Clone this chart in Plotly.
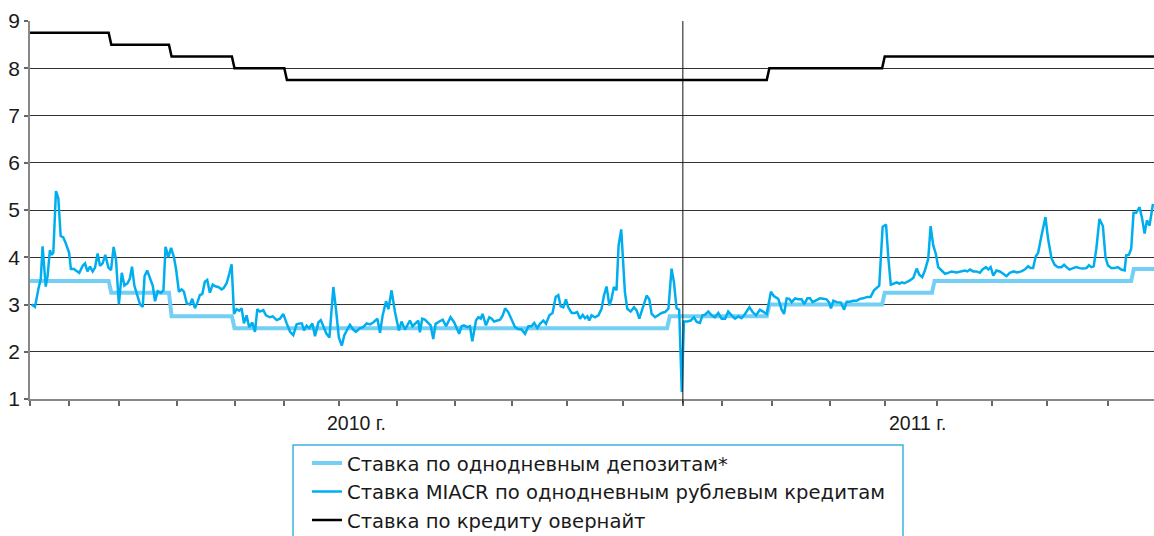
import plotly.graph_objects as go

# ---------------- data ----------------
# trading days per month, Jan 2010 .. Aug 2011 (category axis = trading days)
month_lengths = [15, 19, 22, 22, 19, 21, 22, 22, 22, 21, 21, 23,
                 15, 19, 22, 21, 20, 21, 21, 23]
last_day = 428.7          # end of the visible axis (mid/late Sep 2011)
year_labels = ["2010 г.", "2011 г."]
year_start_2011 = 249     # first trading day of 2011

# overnight credit rate (step changes: trading-day index, rate)
overnight_start = [0, 31, 54, 78, 98, 282, 326]
overnight_rate = [8.75, 8.5, 8.25, 8.0, 7.75, 8.0, 8.25]

# one-day deposit rate
deposit_start = [0, 31, 54, 78, 244, 282, 326, 345, 421]
deposit_rate = [3.5, 3.25, 2.75, 2.5, 2.75, 3.0, 3.25, 3.5, 3.75]

# MIACR overnight rate (trading-day index, %)
miacr_day = [
    0.6, 1.9, 3.2, 4.1, 4.8, 6.0, 6.7, 7.6, 8.3, 8.9, 9.9, 10.8, 11.7, 12.7, 13.6, 14.9,
    15.6, 16.8, 17.5, 18.8, 20.1, 21.0, 21.9, 22.9, 23.9, 24.8, 25.8, 26.7, 27.7, 28.7,
    29.9, 30.9, 31.9, 32.8, 33.9, 35.0, 36.0, 37.2, 38.1, 38.9, 39.8, 40.9, 42.0, 43.0,
    43.7, 44.7, 45.8, 46.8, 47.7, 48.7, 50.0, 50.9, 51.7, 52.8, 53.8, 54.9, 55.7, 56.8,
    57.8, 58.7, 59.8, 61.0, 61.9, 62.9, 63.9, 64.8, 65.7, 66.7, 67.6, 68.6, 69.7, 70.9,
    71.8, 73.1, 73.9, 75.0, 76.0, 76.9, 77.8, 78.8, 79.8, 80.7, 81.6, 82.6, 83.6, 84.8,
    85.8, 86.7, 87.7, 89.0, 90.0, 91.5, 92.6, 94.1, 95.3, 96.6, 97.9, 99.2, 100.4, 101.7,
    103.0, 103.7, 104.5, 105.5, 106.5, 107.7, 108.7, 110.0, 110.9, 112.1, 113.1, 114.2,
    115.7, 116.7, 117.8, 118.9, 119.9, 121.0, 122.0, 123.3, 124.3, 125.9, 127.1, 128.4,
    129.7, 130.9, 132.5, 133.5,
    134.5, 135.8, 136.7, 137.9, 139.2, 140.7, 141.7, 143.0, 143.9, 144.9, 145.9, 147.2,
    148.1, 148.7, 149.6, 150.6, 151.9, 152.8, 153.8, 154.7, 156.1, 157.4, 158.7, 160.4,
    161.7, 163.7, 164.6, 165.5, 166.8, 167.8, 168.7, 170.1, 171.0, 171.9, 172.6, 173.9,
    175.2, 176.1, 177.0, 178.0, 179.3, 180.3, 181.2, 182.4, 183.7, 185.0, 186.2, 187.5,
    188.8, 190.1, 191.3, 192.3, 193.5, 194.5, 195.8, 196.8, 198.1, 199.3, 200.5, 201.5,
    202.4, 203.4, 204.4, 205.3, 206.6, 207.9, 208.7, 209.8, 210.8, 211.7, 212.6, 213.3,
    214.2, 215.5, 216.8, 218.0, 218.9, 219.9, 221.0, 221.8, 222.7, 223.7, 224.5, 225.5,
    226.3, 226.9, 227.8, 229.1, 230.4, 231.4, 232.4, 233.9, 235.2, 236.2, 237.1, 238.4,
    239.6, 240.9, 242.2, 243.5, 244.7, 245.6, 246.6, 247.6, 248.6, 249.4, 250.7, 252.0,
    253.2, 254.3, 255.5, 256.5, 257.4, 258.7, 260.0, 261.2, 262.5, 263.8, 265.1, 266.3,
    267.6, 268.9, 270.2, 271.4, 272.7, 274.4, 275.6, 276.9, 278.4,
    279.7, 281.0, 282.6, 283.7, 285.4, 286.7, 287.6, 288.6, 289.6, 290.5, 291.8, 293.0,
    294.3, 295.3, 296.5, 297.5, 298.5, 299.8, 301.3, 302.6, 303.8, 304.7, 305.5, 306.4,
    307.7, 309.3, 310.5, 311.5, 312.7, 314.0, 315.3, 316.5, 317.8, 319.3, 320.6, 321.9,
    323.2, 323.9, 325.2, 326.5, 327.4, 328.3, 329.3, 330.6, 331.6, 332.5, 333.5, 334.4,
    335.6, 336.9, 338.2, 339.2, 340.3, 341.3, 342.6, 343.5, 344.5, 345.5, 346.4, 347.7,
    349.0, 350.2, 351.5, 353.4, 355.3, 356.6, 357.5, 358.5, 359.8, 361.0, 362.3, 363.3,
    364.6, 365.5, 366.4, 367.4, 368.6, 369.9, 371.2, 372.4, 373.7, 375.2, 376.5, 378.1,
    379.4, 380.7, 381.6, 382.6, 383.6, 384.5, 385.8, 387.3, 388.3, 389.6, 390.8, 392.1,
    393.4, 394.4, 395.3, 396.5, 397.8, 399.1, 400.3, 401.6, 402.9, 403.9, 404.8, 405.7,
    406.7, 407.9, 409.2, 410.2, 411.1, 412.4, 413.7, 414.9, 416.2, 417.5, 418.1, 419.1,
    420.0, 420.9, 421.9, 423.2, 424.2, 425.1, 426.0, 427.0, 428.3,
]
miacr_rate = [
    3.00, 2.95, 3.33, 3.54, 4.23, 3.38, 3.60, 4.15, 4.05, 4.10, 5.40, 5.25, 4.45, 4.42, 4.30, 4.10,
    3.75, 3.75, 3.72, 3.67, 3.82, 3.87, 3.70, 3.80, 3.70, 3.78, 4.08, 3.82, 3.87, 4.05,
    3.78, 3.73, 4.22, 3.95, 3.00, 3.67, 3.40, 3.45, 3.55, 3.80, 3.40, 3.20, 3.00, 2.95,
    3.60, 3.72, 3.55, 3.40, 3.07, 3.28, 3.25, 3.30, 4.22, 4.00, 4.20, 4.00, 3.75, 3.27,
    3.32, 3.27, 3.02, 3.00, 3.12, 2.92, 3.05, 3.20, 3.22, 3.48, 3.52, 3.25, 3.42, 3.38,
    3.37, 3.32, 3.35, 3.45, 3.65, 3.85, 2.80, 2.90, 2.87, 2.92, 2.60, 2.77, 2.52, 2.62,
    2.42, 2.90, 2.85, 2.88, 2.77, 2.73, 2.75, 2.67, 2.70, 2.80, 2.60, 2.42, 2.35, 2.58,
    2.60, 2.60, 2.45, 2.55, 2.50, 2.60, 2.33, 2.62, 2.67, 2.52, 2.38, 2.30,
    3.37, 2.90, 2.30, 2.13, 2.35, 2.47, 2.57, 2.47, 2.42, 2.50, 2.52, 2.60,
    2.58, 2.62, 2.70, 2.40,
    2.77, 3.07, 2.90, 3.30, 2.84, 2.45, 2.64, 2.47, 2.56, 2.66, 2.54, 2.61,
    2.66, 2.41, 2.70, 2.68, 2.61, 2.56, 2.27, 2.59, 2.64, 2.68, 2.54, 2.73,
    2.63, 2.38, 2.54, 2.56, 2.52, 2.54, 2.22, 2.66, 2.73, 2.70, 2.80, 2.56,
    2.73, 2.70, 2.64, 2.66, 2.68, 2.77, 2.92, 2.84, 2.66, 2.52, 2.48, 2.47,
    2.38, 2.54, 2.54, 2.61, 2.50, 2.59, 2.66, 2.59, 2.77, 2.82, 3.16, 3.20,
    2.96, 2.94, 3.11, 2.94, 2.82, 2.82, 2.84, 2.70, 2.78, 2.71, 2.75, 2.66,
    2.77, 2.73, 2.77, 2.91, 3.19, 3.38, 2.98, 3.12, 3.37, 3.30, 4.25, 4.59,
    3.83, 3.26, 2.91, 2.85, 2.94, 2.87, 2.70, 2.94, 3.19, 3.11, 2.80, 2.73,
    2.78, 2.82, 2.84, 2.91, 3.76, 3.47, 2.92, 2.89, 1.15, 2.64, 2.64, 2.66,
    2.73, 2.63, 2.61, 2.77, 2.78, 2.85, 2.77, 2.73, 2.82, 2.70, 2.70, 2.85,
    2.77, 2.70, 2.75, 2.71, 2.80, 2.94, 2.84, 2.77, 2.89,
    2.85, 2.80, 3.27, 3.18, 3.12, 2.89, 2.80, 3.13, 3.12, 3.05, 3.13, 3.11,
    3.11, 3.01, 3.13, 3.13, 3.05, 3.08, 3.13, 3.12, 3.11, 3.05, 2.92, 3.08,
    3.05, 3.04, 2.89, 3.06, 3.06, 3.08, 3.08, 3.12, 3.13, 3.16, 3.16, 3.30,
    3.37, 3.40, 4.64, 4.69, 3.97, 3.42, 3.44, 3.47, 3.44, 3.47, 3.45, 3.47,
    3.51, 3.56, 3.76, 3.63, 3.58, 3.72, 3.97, 4.66, 4.25, 4.07, 3.79, 3.72,
    3.65, 3.67, 3.70, 3.68, 3.70, 3.72, 3.70, 3.74, 3.70, 3.70, 3.67, 3.74,
    3.79, 3.74, 3.79, 3.61, 3.72, 3.70, 3.65, 3.60, 3.67, 3.70, 3.68, 3.70,
    3.74, 3.81, 3.77, 3.77, 4.02, 4.09, 4.46, 4.85, 4.39, 3.98, 3.84, 3.79,
    3.79, 3.84, 3.79, 3.74, 3.77, 3.79, 3.77, 3.76, 3.77, 3.83, 3.79, 3.81,
    4.18, 4.81, 4.66, 4.00, 3.83, 3.77, 3.77, 3.79, 3.74, 3.72, 4.04, 4.05,
    4.18, 4.94, 4.94, 5.06, 4.81, 4.50, 4.78, 4.67, 5.13,
]

names = ["Ставка по однодневным депозитам*",
         "Ставка MIACR по однодневным рублевым кредитам",
         "Ставка по кредиту овернайт"]
y_ticks = [1, 2, 3, 4, 5, 6, 7, 8, 9]

# ---------------- helpers ----------------
def step_points(starts, rates, end):
    xs, ys = [], []
    bounds = starts[1:] + [int(end)]
    for s, e, r in zip(starts, bounds, rates):
        xs += [s, e - 1 if e - 1 > s else s]
        ys += [r, r]
    xs[-1] = end
    return xs, ys

month_ticks = [0]
for m in month_lengths:
    month_ticks.append(month_ticks[-1] + m)

dep_x, dep_y = step_points(deposit_start, deposit_rate, last_day)
ovn_x, ovn_y = step_points(overnight_start, overnight_rate, last_day)

FONT = "Liberation Sans, Arial, sans-serif"
LEG_FONT = "DejaVu Sans, Liberation Sans, sans-serif"
fig = go.Figure()
fig.add_trace(go.Scatter(x=dep_x, y=dep_y, mode="lines", name=names[0],
                         line=dict(color="#74CFF4", width=4)))
fig.add_trace(go.Scatter(x=miacr_day, y=miacr_rate, mode="lines", name=names[1],
                         line=dict(color="#00AEEF", width=2.5)))
fig.add_trace(go.Scatter(x=ovn_x, y=ovn_y, mode="lines", name=names[2],
                         line=dict(color="#000000", width=2.5)))

# year separator
fig.add_shape(type="line", xref="x", yref="paper", x0=year_start_2011, x1=year_start_2011,
              y0=-0.012, y1=1, line=dict(color="#111111", width=1))

# legend frame (open at the bottom of the picture)
fig.add_shape(type="rect", xref="paper", yref="paper", x0=0.234, x1=0.7767,
              y0=-0.40, y1=-0.1217, line=dict(color="#3AB3E6", width=1.5),
              fillcolor="rgba(0,0,0,0)", layer="above")

# year labels
year_mid = [year_start_2011 / 2, (year_start_2011 + last_day) / 2]
for xm, t in zip(year_mid, year_labels):
    fig.add_annotation(x=xm, xref="x", y=-0.0635, yref="paper", text=t, showarrow=False,
                       font=dict(size=19.5, color="#1a1a1a", family=FONT), yanchor="middle")

fig.update_layout(
    width=1154, height=536,
    margin=dict(l=30, r=0, t=21, b=137, autoexpand=False),
    paper_bgcolor="white", plot_bgcolor="white",
    font=dict(family=FONT, color="#1a1a1a"),
    showlegend=True,
    legend=dict(x=0.2464, xref="paper", y=0.172, yref="container",
                xanchor="left", yanchor="top",
                borderwidth=0, bgcolor="rgba(0,0,0,0)",
                font=dict(size=19.6, color="#1a1a1a", family=LEG_FONT),
                tracegroupgap=0, itemwidth=30),
    xaxis=dict(range=[0, last_day], tickmode="array", tickvals=month_ticks,
               ticktext=[""] * len(month_ticks), ticks="outside", ticklen=5,
               tickwidth=1.5, tickcolor="#666666", showgrid=False, zeroline=False,
               showline=True, linecolor="#888888", linewidth=1.5, automargin=False),
    yaxis=dict(range=[1, 9], tickmode="array", tickvals=y_ticks,
               ticks="outside", ticklen=4, tickwidth=1.5, tickcolor="#666666",
               showgrid=True, gridcolor="#333333", gridwidth=1, zeroline=False,
               showline=True, linecolor="#888888", linewidth=1.5, automargin=False,
               tickfont=dict(size=21, color="#1a1a1a", family=FONT)),
)

fig.write_html("out.html", config={"displayModeBar": False},
               post_script="document.body.style.margin='0';document.body.style.overflow='hidden';")
